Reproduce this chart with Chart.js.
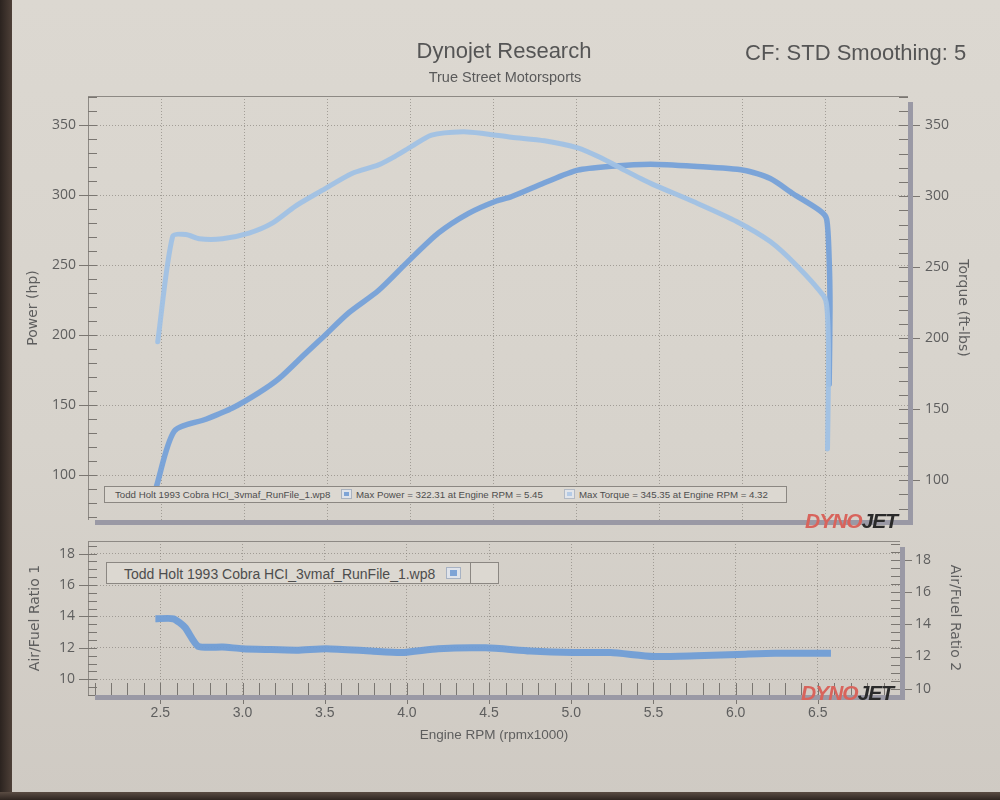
<!DOCTYPE html>
<html><head><meta charset="utf-8">
<script src="https://cdn.jsdelivr.net/npm/chart.js@4.4.1/dist/chart.umd.min.js"></script>
<style>
html,body{margin:0;padding:0;}
body{width:1000px;height:800px;position:relative;overflow:hidden;background:linear-gradient(180deg,#dcd8d1 0%,#d7d3cc 55%,#cfcac3 100%);font-family:"Liberation Sans",Arial,sans-serif;color:#555;}
.edgeL{position:absolute;left:0;top:0;width:12px;height:800px;background:linear-gradient(90deg,#2b231f,#4e4038);}
.edgeB{position:absolute;left:0;top:792px;width:1000px;height:8px;background:linear-gradient(180deg,#5a4c43,#2e2520);}
canvas{position:absolute;left:0;top:0;}
.t{position:absolute;white-space:nowrap;line-height:1;}
.box{position:absolute;border:1px solid #8b8782;background:#dcd8d1;}
.box span{position:absolute;white-space:nowrap;line-height:1;color:#4d4d4d;}
.sq{position:absolute;box-sizing:border-box;}
.logo{position:absolute;white-space:nowrap;line-height:1;font-weight:bold;font-style:italic;font-size:21px;letter-spacing:-1px;}
.logo b{color:#d8645c;}
.logo em{color:#2a2a2a;font-style:italic;}
</style></head>
<body>
<div class="edgeL"></div>
<div class="edgeB"></div>
<canvas id="c1" width="1000" height="800"></canvas>
<canvas id="c2" width="1000" height="800"></canvas>

<div class="t" style="left:0;width:1008px;text-align:center;top:40px;font-size:22px;color:#555;">Dynojet Research</div>
<div class="t" style="left:0;width:1010px;text-align:center;top:70px;font-size:14.5px;color:#5a5a5a;">True Street Motorsports</div>
<div class="t" style="left:745px;top:42px;font-size:22px;color:#555;">CF: STD Smoothing: 5</div>

<div class="box" style="left:104px;top:486px;width:681px;height:15px;">
  <span style="left:10px;top:2.5px;font-size:9.7px;">Todd Holt 1993 Cobra HCI_3vmaf_RunFile_1.wp8</span>
  <div class="sq" style="left:236px;top:2px;width:11px;height:10px;border:1px solid #aab3c0;background:#dfe3ea;"><div style="position:absolute;left:2px;top:2px;width:5px;height:4px;background:#7ea4d6;"></div></div>
  <span style="left:251px;top:2.5px;font-size:9.7px;">Max Power = 322.31 at Engine RPM = 5.45</span>
  <div class="sq" style="left:459px;top:2px;width:11px;height:10px;border:1px solid #b3bac5;background:#e2e5ea;"><div style="position:absolute;left:2px;top:2px;width:5px;height:4px;background:#b5cbe6;"></div></div>
  <span style="left:474px;top:2.5px;font-size:9.7px;">Max Torque = 345.35 at Engine RPM = 4.32</span>
</div>

<div class="box" style="left:106px;top:562px;width:391px;height:20px;">
  <span style="left:17px;top:4px;font-size:14px;">Todd Holt 1993 Cobra HCI_3vmaf_RunFile_1.wp8</span>
  <div class="sq" style="left:339px;top:4px;width:15px;height:12px;border:1px solid #a7b2c3;background:#dfe3ea;"><div style="position:absolute;left:3px;top:2px;width:7px;height:6px;background:#7ea4d6;"></div></div>
  <div style="position:absolute;left:363px;top:0;width:1px;height:20px;background:#8b8782;"></div>
</div>

<div class="logo" style="left:805px;top:510px;"><b>DYNO</b><em>JET</em></div>
<div class="logo" style="left:801px;top:682px;"><b>DYNO</b><em>JET</em></div>

<script>
// ---------- data ----------
const rpmTicks = [2.5, 3.0, 3.5, 4.0, 4.5, 5.0, 5.5, 6.0, 6.5];
const hpTicks = [100, 150, 200, 250, 300, 350];
const tqTicks = [100, 150, 200, 250, 300, 350];
const afrTicks = [10, 12, 14, 16, 18];

const powerRpm = [2.47, 2.58, 2.77, 2.93, 3.09, 3.21, 3.37, 3.47, 3.63, 3.81, 3.99, 4.17, 4.35, 4.52, 4.61, 4.81, 5.01, 5.21, 5.45, 5.71, 6.01, 6.17, 6.31, 6.47, 6.51, 6.525, 6.53, 6.525];
const powerHp  = [91, 131.5, 140, 148, 159, 169, 187, 198, 216, 232, 253, 273, 287, 296, 299, 309, 318, 320.8, 322.3, 320.8, 318, 312, 301, 289, 283, 254, 220, 165];

const torqueRpm = [2.48, 2.57, 2.65, 2.73, 2.87, 3.03, 3.17, 3.31, 3.47, 3.65, 3.81, 3.91, 4.01, 4.13, 4.32, 4.45, 4.61, 4.81, 5.01, 5.15, 5.27, 5.45, 5.71, 5.97, 6.17, 6.33, 6.49, 6.51, 6.52, 6.52, 6.515];
const torqueFt  = [197.5, 271.6, 273, 270, 270, 274, 281, 293, 304, 316, 322, 328, 335, 343, 345.4, 344, 341.5, 339, 334, 327, 319.6, 309, 296, 282, 268, 251, 230, 223, 199.6, 164, 122];

const afrRpm = [2.47, 2.58, 2.65, 2.73, 2.88, 3.00, 3.14, 3.33, 3.51, 3.78, 3.97, 4.19, 4.48, 4.75, 5.01, 5.24, 5.50, 5.76, 6.06, 6.24, 6.58];
const afrVal = [13.85, 13.85, 13.3, 12.1, 12.05, 11.95, 11.9, 11.85, 11.95, 11.8, 11.7, 11.95, 12.0, 11.8, 11.7, 11.7, 11.45, 11.5, 11.6, 11.65, 11.65];

// ---------- styling ----------
const textCol = '#5e5e5e';
const gridCol = 'rgba(125,120,114,0.6)';
const tickFont = {family: '"Open Sans", "Liberation Sans", sans-serif', size: 14};
const titleFont = {family: '"DejaVu Sans", sans-serif', size: 14};

const pts = (xs, ys) => xs.map((x, i) => ({x: x, y: ys[i]}));
const setTicks = arr => (s => { s.ticks = arr.map(v => ({value: v})); });

function framePlugin(o) {
  return {
    id: 'frame',
    afterDatasetsDraw(chart) {
      const {ctx, chartArea: a, scales: s} = chart;
      ctx.save();
      ctx.lineWidth = 1;
      const line = (x1, y1, x2, y2) => { ctx.beginPath(); ctx.moveTo(x1, y1); ctx.lineTo(x2, y2); ctx.stroke(); };
      const isMul = (v, m) => Math.abs(v / m - Math.round(v / m)) < 1e-6;
      ctx.strokeStyle = '#8d8984';
      line(a.left + 0.5, a.bottom, a.left + 0.5, a.top + 0.5);
      line(a.left, a.top + 0.5, a.right, a.top + 0.5);
      ctx.strokeStyle = '#7a7671';
      const yL = s.yL, yR = s.yR, x = s.x;
      for (let k = Math.ceil(yL.min / o.lStep); k * o.lStep <= yL.max; k++) {
        const v = k * o.lStep, y = Math.round(yL.getPixelForValue(v)) + 0.5;
        line(isMul(v, o.lMajor) ? a.left - 9 : a.left, y, a.left + 9, y);
      }
      for (let k = Math.ceil(yR.min / o.rStep); k * o.rStep <= yR.max; k++) {
        const v = k * o.rStep, y = Math.round(yR.getPixelForValue(v)) + 0.5;
        line(a.right - 9, y, isMul(v, o.rMajor) ? a.right + 12 : a.right, y);
      }
      if (o.xStep) {
        for (let k = Math.ceil(x.min / o.xStep); k * o.xStep <= x.max - 0.05; k++) {
          const v = k * o.xStep, px = Math.round(x.getPixelForValue(v)) + 0.5;
          line(px, a.bottom - 12, px, isMul(v, o.xMajor) ? a.bottom + 9 : a.bottom);
        }
      }
      ctx.fillStyle = '#9a99a5';
      ctx.fillRect(a.right, a.top + 6, 5, a.bottom - a.top - 6 + 5);
      ctx.fillRect(a.left + 7, a.bottom, a.right - a.left - 7 + 5, 5);
      ctx.restore();
    }
  };
}

// ---------- chart 1: power / torque ----------
new Chart(document.getElementById('c1'), {
  type: 'line',
  data: {
    datasets: [
      {label: 'Torque', data: pts(torqueRpm, torqueFt), yAxisID: 'yR', borderColor: 'rgba(160,193,228,0.95)', borderWidth: 5, tension: 0.25},
      {label: 'Power', data: pts(powerRpm, powerHp), yAxisID: 'yL', borderColor: 'rgba(118,161,216,0.95)', borderWidth: 5.5, tension: 0.25}
    ]
  },
  options: {
    responsive: false, animation: false,
    layout: {padding: {top: 96, bottom: 280, left: 0, right: 0}},
    plugins: {legend: {display: false}, tooltip: {enabled: false}},
    elements: {point: {radius: 0}, line: {borderCapStyle: 'round', borderJoinStyle: 'round'}},
    scales: {
      x: {type: 'linear', min: 2.06, max: 7.0, afterBuildTicks: setTicks(rpmTicks), afterFit: s => { s.height = 0; },
          ticks: {display: false}, grid: {color: gridCol, drawTicks: false}, border: {display: false, dash: [1, 2]}},
      yL: {type: 'linear', position: 'left', min: 68, max: 371, afterBuildTicks: setTicks(hpTicks), afterFit: s => { s.width = 88; },
           ticks: {padding: 12, font: tickFont, color: textCol}, grid: {color: gridCol, drawTicks: false}, border: {display: false, dash: [1, 2]},
           title: {display: true, text: 'Power (hp)', font: titleFont, color: textCol, padding: {top: 25, bottom: 0}}},
      yR: {type: 'linear', position: 'right', min: 72, max: 370.5, afterBuildTicks: setTicks(tqTicks), afterFit: s => { s.width = 92; },
           ticks: {padding: 17, font: tickFont, color: textCol}, grid: {drawOnChartArea: false, drawTicks: false}, border: {display: false},
           title: {display: true, text: 'Torque (ft-lbs)', font: titleFont, color: textCol, padding: {top: 28.6, bottom: 0}}}
    }
  },
  plugins: [framePlugin({lStep: 10, lMajor: 50, rStep: 10, rMajor: 50})]
});

// ---------- chart 2: air/fuel ----------
new Chart(document.getElementById('c2'), {
  type: 'line',
  data: {
    datasets: [
      {label: 'Todd Holt 1993 Cobra HCI_3vmaf_RunFile_1.wp8', data: pts(afrRpm, afrVal), yAxisID: 'yL', borderColor: 'rgba(112,157,214,0.95)', borderWidth: 7, tension: 0.2}
    ]
  },
  options: {
    responsive: false, animation: false,
    layout: {padding: {top: 541, bottom: 55, left: 0, right: 0}},
    plugins: {legend: {display: false}, tooltip: {enabled: false}},
    elements: {point: {radius: 0}, line: {borderCapStyle: 'butt', borderJoinStyle: 'round'}},
    scales: {
      x: {type: 'linear', min: 2.06, max: 7.0, afterBuildTicks: setTicks(rpmTicks), afterFit: s => { s.height = 50; },
          ticks: {padding: 10, font: {family: '"Liberation Sans", sans-serif', size: 14}, color: textCol, callback: v => Number(v).toFixed(1)},
          grid: {color: gridCol, drawTicks: false}, border: {display: false, dash: [1, 2]},
          title: {display: true, text: 'Engine RPM (rpmx1000)', font: {family: '"Liberation Sans", sans-serif', size: 13.5}, color: textCol, padding: {top: 0, bottom: 2}}},
      yL: {type: 'linear', position: 'left', min: 9.0, max: 18.8, afterBuildTicks: setTicks(afrTicks), afterFit: s => { s.width = 88; },
           ticks: {padding: 13, font: tickFont, color: textCol}, grid: {color: gridCol, drawTicks: false}, border: {display: false, dash: [1, 2]},
           title: {display: true, text: 'Air/Fuel Ratio 1', font: titleFont, color: textCol, padding: {top: 26.6, bottom: 0}}},
      yR: {type: 'linear', position: 'right', min: 9.6, max: 19.2, afterBuildTicks: setTicks(afrTicks), afterFit: s => { s.width = 100; },
           ticks: {padding: 15, font: tickFont, color: textCol}, grid: {drawOnChartArea: false, drawTicks: false}, border: {display: false},
           title: {display: true, text: 'Air/Fuel Ratio 2', font: titleFont, color: textCol, padding: {top: 36.6, bottom: 0}}}
    }
  },
  plugins: [framePlugin({lStep: 0.5, lMajor: 2, rStep: 0.5, rMajor: 2, xStep: 0.1, xMajor: 0.5})]
});
</script>
</body></html>
